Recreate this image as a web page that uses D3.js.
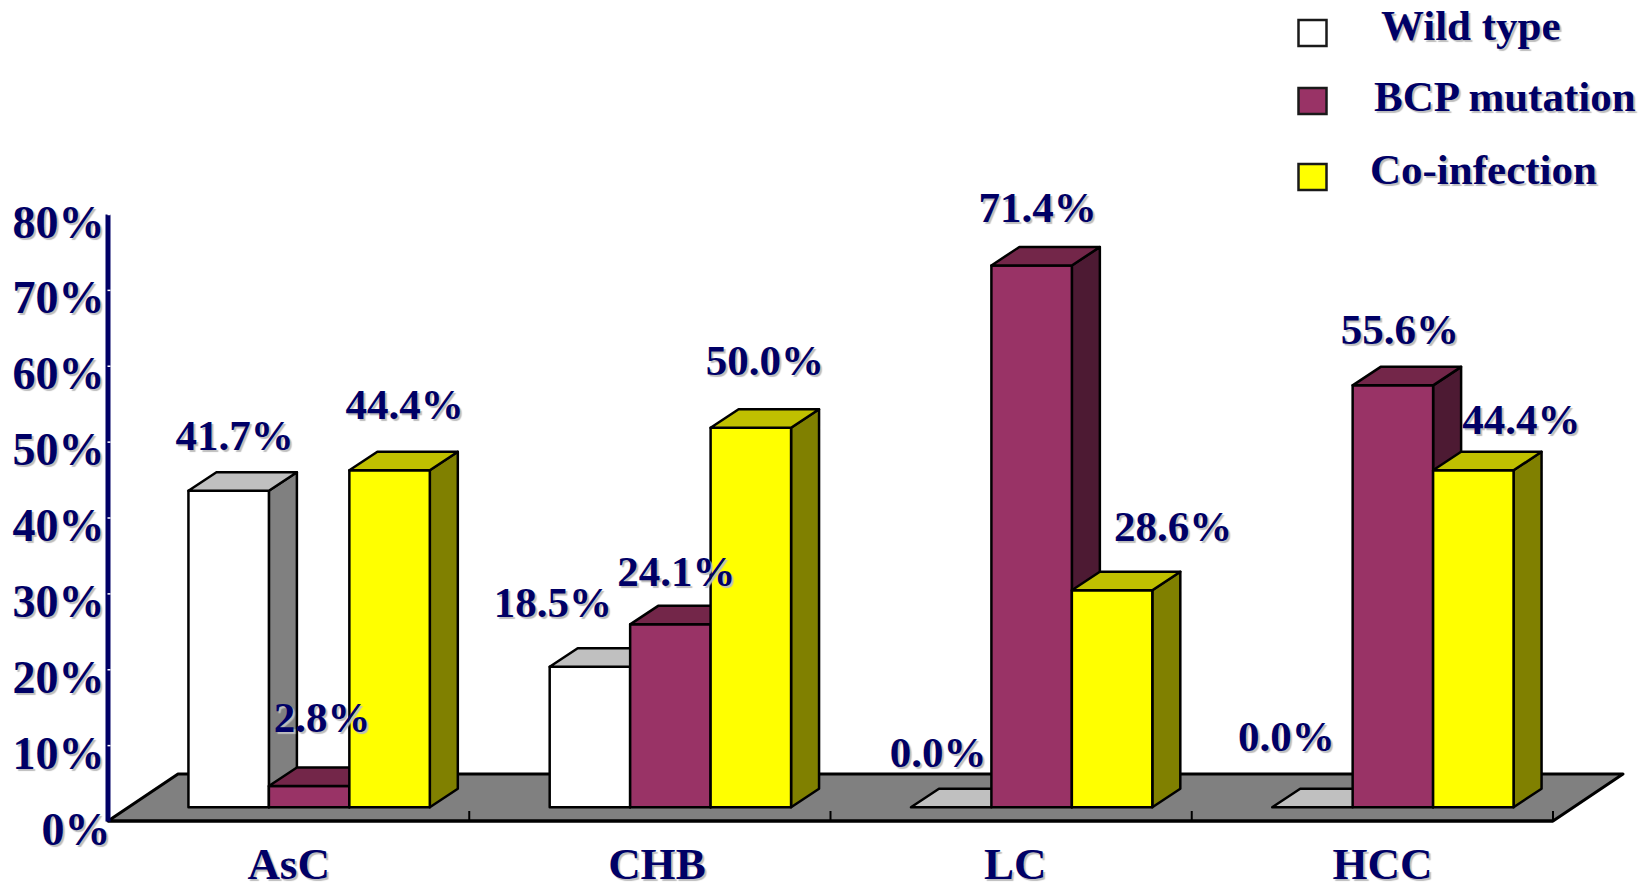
<!DOCTYPE html>
<html>
<head>
<meta charset="utf-8">
<script src="https://cdn.jsdelivr.net/npm/d3@7"></script>
<style>
    html, body { margin: 0; padding: 0; background: #fff; }
    svg { display: block; }
    text {
        font-family: "Liberation Serif", serif;
        font-weight: bold;
        fill: #000066;
        text-shadow: 2px 2px 1px #bdbdbd;
    }
</style>
</head>
<body>
<svg id="chart" width="1647" height="884"></svg>
<script>
const categories = ['AsC', 'CHB', 'LC', 'HCC'];
const seriesNames = ['Wild type', 'BCP mutation', 'Co-infection'];
const wildType = [41.7, 18.5, 0.0, 0.0];
const bcpMutation = [2.8, 24.1, 71.4, 55.6];
const coInfection = [44.4, 50.0, 28.6, 44.4];
const seriesValues = [wildType, bcpMutation, coInfection];
const yTicks = [0, 10, 20, 30, 40, 50, 60, 70, 80];

// front, top and side colour of the boxes for each series
const faceColors = [
    {front: '#ffffff', top: '#c0c0c0', side: '#808080'},
    {front: '#993366', top: '#732649', side: '#4d1a33'},
    {front: '#ffff00', top: '#c0c000', side: '#808000'}
];

// The value labels were placed by hand in the original, so each one gets
// its own nudge from the top centre of its bar: [category][series] -> [dx, dy]
const labelNudges = [
    [[6, -41], [13, -54], [15, -51]],
    [[-37, -50], [6, -38], [14, -53]],
    [[-13, -40], [6, -43], [61, -49]],
    [[-26, -56], [7, -41], [48, -36]]
];

// The category labels are not quite centred on their bands either.
const categoryNudges = [0, 7, 4, 10];

// Legend text starts are not aligned with each other.
const legendLayout = [
    {boxY: 20, textX: 1381, textY: 40},
    {boxY: 88, textX: 1374, textY: 111},
    {boxY: 164, textX: 1370, textY: 184}
];

const svg = d3.select('#chart');

const y = d3.scaleLinear().domain([0, 80]).range([821, 214]);
const x = d3.scaleBand().domain(categories).range([108, 1553]);
const xBar = d3.scaleBand().domain(seriesNames).range([0, x.bandwidth()])
    .paddingInner(0).paddingOuter(0.745);

// Depth of the floor, and of a bar; bars stand in the middle of the floor.
const floorDepth = {x: 70, y: -47};
const barDepth = {x: 28, y: -18.5};
const barShift = {x: 20.5, y: -13.8};

const polygon = points => points.map(p => p.join(',')).join(' ');

// Floor
svg.append('polygon')
    .attr('points', polygon([
        [x.range()[0], y(0)],
        [x.range()[0] + floorDepth.x, y(0) + floorDepth.y],
        [x.range()[1] + floorDepth.x, y(0) + floorDepth.y],
        [x.range()[1], y(0)]
    ]))
    .attr('fill', '#808080')
    .attr('stroke', '#000')
    .attr('stroke-width', 3)
    .attr('stroke-linejoin', 'round');

// Tick marks between the categories, they point up into the floor.
svg.append('g')
    .selectAll('line')
    .data(categories)
    .join('line')
    .attr('x1', d => x(d) + x.step())
    .attr('x2', d => x(d) + x.step())
    .attr('y1', y(0))
    .attr('y2', y(0) - 10)
    .attr('stroke', '#000')
    .attr('stroke-width', 2);

// Bars. Drawn left to right so the next bar hides the side of the one before.
categories.forEach((category, c) => {
    const group = svg.append('g').attr('class', 'bars');
    seriesNames.forEach((name, s) => {
        const value = seriesValues[s][c];
        const colors = faceColors[s];
        const x0 = x(category) + xBar(name) + barShift.x;
        const x1 = x0 + xBar.bandwidth();
        const top = y(value) + barShift.y;
        const base = y(0) + barShift.y;
        const dx = barDepth.x;
        const dy = barDepth.y;

        const bar = group.append('g')
            .attr('stroke', '#000')
            .attr('stroke-width', 2.5)
            .attr('stroke-linejoin', 'round');

        if (value > 0) {
            bar.append('polygon')
                .attr('points', polygon([[x1, top], [x1 + dx, top + dy], [x1 + dx, base + dy], [x1, base]]))
                .attr('fill', colors.side);
            bar.append('rect')
                .attr('x', x0)
                .attr('y', top)
                .attr('width', x1 - x0)
                .attr('height', base - top)
                .attr('fill', colors.front);
        }
        bar.append('polygon')
            .attr('points', polygon([[x0, top], [x0 + dx, top + dy], [x1 + dx, top + dy], [x1, top]]))
            .attr('fill', colors.top);
    });
});

// Front edge of the floor goes over the tick feet.
svg.append('line')
    .attr('x1', x.range()[0])
    .attr('x2', x.range()[1])
    .attr('y1', y(0))
    .attr('y2', y(0))
    .attr('stroke', '#000')
    .attr('stroke-width', 3);

// y axis
const yAxis = svg.append('g')
    .attr('transform', 'translate(107.5,0)')
    .call(d3.axisLeft(y).tickValues(yTicks).tickFormat(d => d + '%').tickSizeOuter(0));
yAxis.select('.domain')
    .attr('stroke', '#000066')
    .attr('stroke-width', 5);
yAxis.selectAll('.tick line')
    .attr('x1', 0)
    .attr('x2', 3)
    .attr('stroke', '#fff')
    .attr('stroke-width', 1.5)
    .filter(d => d === 0).remove();
yAxis.selectAll('.tick text')
    .attr('x', d => d === 0 ? 3 : -3)
    .attr('dy', 23)
    .attr('text-anchor', 'end')
    .style('font-size', '46px')
    .style('font-family', '"Liberation Serif", serif');

// x axis labels
const xAxis = svg.append('g')
    .attr('transform', `translate(0,${y(0)})`)
    .call(d3.axisBottom(x).tickSize(0));
xAxis.select('.domain').remove();
xAxis.selectAll('.tick text')
    .attr('x', (d, i) => categoryNudges[i])
    .attr('y', 58)
    .attr('dy', 0)
    .style('font-size', '45px')
    .style('font-family', '"Liberation Serif", serif');

// Value labels
categories.forEach((category, c) => {
    seriesNames.forEach((name, s) => {
        const value = seriesValues[s][c];
        const nudge = labelNudges[c][s];
        svg.append('text')
            .attr('x', x(category) + xBar(name) + barShift.x + xBar.bandwidth() / 2 + nudge[0])
            .attr('y', y(value) + barShift.y + nudge[1])
            .attr('text-anchor', 'middle')
            .style('font-size', '43px')
            .text(value.toFixed(1) + '%');
    });
});

// Legend
const legend = svg.append('g')
    .selectAll('g')
    .data(seriesNames)
    .join('g');
legend.append('rect')
    .attr('x', 1298.5)
    .attr('y', (d, i) => legendLayout[i].boxY)
    .attr('width', 28)
    .attr('height', 26)
    .attr('fill', (d, i) => faceColors[i].front)
    .attr('stroke', '#1a1a1a')
    .attr('stroke-width', 2.5);
legend.append('text')
    .attr('x', (d, i) => legendLayout[i].textX)
    .attr('y', (d, i) => legendLayout[i].textY)
    .style('font-size', '43px')
    .text(d => d);
</script>
</body>
</html>
